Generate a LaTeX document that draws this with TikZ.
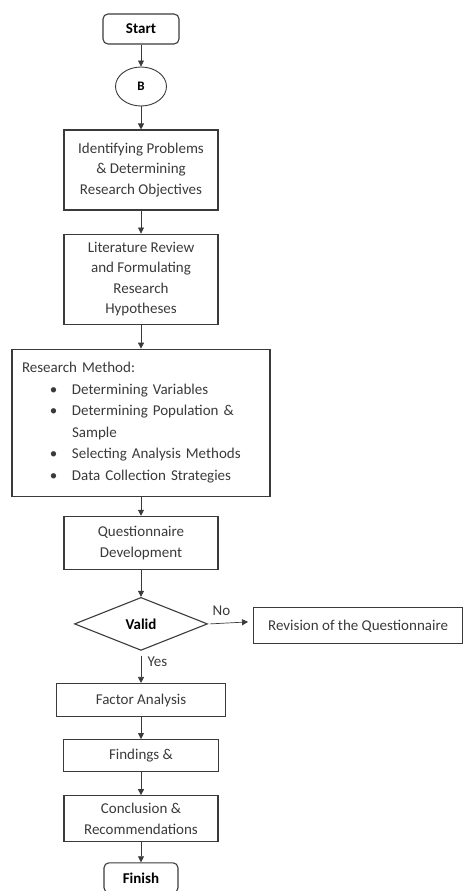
\documentclass[tikz,border=0pt]{standalone}
\usepackage{fontspec}
\setmainfont{Carlito}
\usetikzlibrary{arrows.meta, positioning, shapes.geometric}
\definecolor{inkgray}{HTML}{3A3A3A}
\tikzset{
    terminal/.style={
        rectangle, rounded corners=5pt,
        draw=inkgray, line width=1.1pt,
        minimum width=76pt, minimum height=30pt,
        font=\fontsize{15}{20}\selectfont\bfseries, text=black
    },
    connector/.style={
        ellipse, draw=inkgray, line width=0.9pt,
        minimum width=51pt, minimum height=39pt, inner sep=0pt,
        font=\fontsize{13}{16}\selectfont\bfseries, text=black
    },
    process/.style={
        rectangle, draw=inkgray, line width=1.1pt,
        minimum width=154pt, align=center,
        font=\fontsize{15}{20.5}\selectfont, text=inkgray
    },
    decision/.style={
        diamond, draw=inkgray, line width=1.1pt, aspect=2.5,
        minimum width=133pt, minimum height=53pt, inner sep=0pt,
        font=\fontsize{15}{20}\selectfont\bfseries, text=black
    },
    arrow/.style={-{Triangle[length=6pt, width=6pt]}, line width=0.7pt, draw=inkgray},
    tag/.style={font=\fontsize{15}{20}\selectfont, text=inkgray}
}
\newcommand{\bulletitem}[1]{\makebox[50pt][l]{\hspace*{28pt}\textbullet}#1}
\begin{document}
\begin{tikzpicture}[node distance=22pt]
    \useasboundingbox (0pt,0pt) rectangle (465pt,-891pt);
    \node[terminal] (start) at (141pt,-29pt) {Start};
    \node[connector, below=22pt of start] (b) {B};
    \node[process, below=23pt of b, minimum height=80pt] (problems)
        {Identifying Problems\\ \& Determining\\ Research Objectives};
    \node[process, below=23pt of problems, minimum height=90pt] (review)
        {Literature Review\\ and Formulating\\ Research\\ Hypotheses};
    \node[process, below=24pt of review, minimum width=258pt, minimum height=147pt,
          align=left, text width=238pt, font=\fontsize{15}{21.5}\selectfont] (method)
        {Research Method:\\
         \bulletitem{Determining Variables}\\
         \bulletitem{Determining Population \&}\\
         \hspace*{50pt}Sample\\
         \bulletitem{Selecting Analysis Methods}\\
         \bulletitem{Data Collection Strategies}};
    \node[process, below=19pt of method, minimum height=53pt] (quest)
        {Questionnaire\\ Development};
    \node[decision, below=27pt of quest] (valid) {Valid};
    \node[process, right=45pt of valid, yshift=-2pt, minimum width=209pt,
          minimum height=36pt] (revision) {Revision of the Questionnaire};
    \node[process, below=32pt of valid, minimum width=169pt, minimum height=33pt] (factor)
        {Factor Analysis};
    \node[process, below=22pt of factor, minimum width=155pt, minimum height=32pt] (findings)
        {Findings \&};
    \node[process, below=23pt of findings, minimum height=46pt, font=\fontsize{15}{21}\selectfont] (conclusion)
        {Conclusion \&\\ Recommendations};
    \node[terminal, below=20pt of conclusion, minimum width=74pt] (finish) {Finish};

    \draw[arrow] (start) -- (b);
    \draw[arrow] (b) -- (problems);
    \draw[arrow] (problems) -- (review);
    \draw[arrow] (review) -- (method);
    \draw[arrow] (method) -- (quest);
    \draw[arrow] (quest) -- (valid);
    \draw[arrow] ([xshift=2pt]valid.east) -- ([xshift=-5pt,yshift=2pt]valid.east -| revision.west)
        node[tag, pos=0.3, above=4pt] {No};
    \draw[arrow] ([yshift=-5pt]valid.south) -- (factor)
        node[tag, pos=0.2, right=3pt] {Yes};
    \draw[arrow] (factor) -- (findings);
    \draw[arrow] (findings) -- (conclusion);
    \draw[arrow] (conclusion) -- (finish);
\end{tikzpicture}
\end{document}
